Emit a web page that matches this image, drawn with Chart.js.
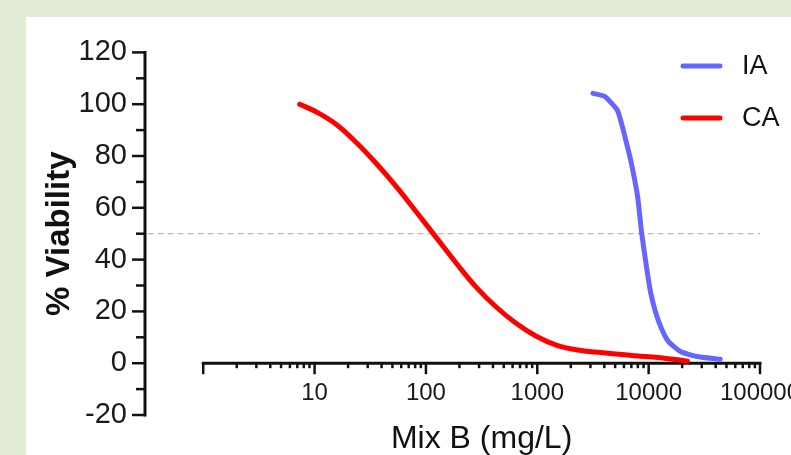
<!DOCTYPE html>
<html>
<head>
<meta charset="utf-8">
<script src="https://cdn.jsdelivr.net/npm/chart.js@4.4.1/dist/chart.umd.min.js"></script>
<style>
  html, body { margin: 0; padding: 0; width: 791px; height: 455px; overflow: hidden; background: #e2ebd4; }
  #box { position: absolute; left: 26px; top: 17px; width: 800px; height: 438px; background: #fff; }
</style>
</head>
<body>
<div id="box"><canvas id="canv" width="800" height="438"></canvas></div>
<script>
// values
var iaDose = [3162, 4047, 5290, 6500, 7200, 7980, 8670, 9600, 10420, 11550, 13060, 15100, 19300, 26300, 43900];
var iaViability = [104.2, 103, 97.3, 83, 74.6, 64, 50, 36.7, 27.3, 19.7, 13.3, 8.3, 4.5, 2.7, 1.5];

var caDose = [7.35, 10.6, 16.0, 24.2, 36.5, 55.1, 83.1, 125, 189, 285, 430, 649, 980, 1479, 2230, 3728, 8483, 12800, 22300];
var caViability = [100, 96.8, 91.9, 84.8, 76.7, 67.8, 58.1, 48.3, 38.4, 29.2, 21.6, 15.3, 10.4, 7.0, 5.2, 4.1, 2.7, 2.1, 0.8];

var seriesNames = ['IA', 'CA'];
var seriesColors = ['rgb(102,102,255)', '#ff0000'];

var xLabels = [10, 100, 1000, 10000, 100000];
var xFirst = 1, xLast = 100000;
var yMin = -20, yMax = 120, yStep = 10, yLabelStep = 20;
var halfLine = 50;

var font = "'Liberation Sans', Arial, Helvetica, sans-serif";
var xMin = Math.pow(10, -0.5);

function toPoints(xs, ys) {
  var out = [];
  for (var i = 0; i < xs.length; i++) out.push({x: xs[i], y: ys[i]});
  return out;
}

// log axis tick positions 1,2..9,10,20..
var xTickValues = [];
for (var d = 1; d < xLast; d *= 10) {
  for (var m = 1; m < 10; m++) xTickValues.push(d * m);
}
xTickValues.push(xLast);

function isDecade(v) {
  var l = Math.log10(v);
  return Math.abs(l - Math.round(l)) < 1e-9;
}

var axesPlugin = {
  id: 'prismAxes',
  beforeDatasetsDraw: function(chart) {
    var ctx = chart.ctx, xs = chart.scales.x, ys = chart.scales.y;
    var ax = chart.chartArea.left;
    var y0 = ys.getPixelForValue(0);
    ctx.save();
    ctx.strokeStyle = '#111';
    ctx.lineCap = 'butt';
    // y axis
    ctx.lineWidth = 3;
    ctx.beginPath();
    ctx.moveTo(ax, ys.getPixelForValue(yMax) - 1.5);
    ctx.lineTo(ax, ys.getPixelForValue(yMin) + 1.5);
    ctx.stroke();
    ctx.lineWidth = 2.5;
    ys.ticks.forEach(function(t) {
      var py = ys.getPixelForValue(t.value);
      var len = t.value % yLabelStep === 0 ? 13 : 9;
      ctx.beginPath();
      ctx.moveTo(ax - len, py);
      ctx.lineTo(ax, py);
      ctx.stroke();
    });
    // x axis, drawn at y = 0 from 1 to 100000
    var x1 = xs.getPixelForValue(xFirst), x2 = xs.getPixelForValue(xLast);
    ctx.lineWidth = 3;
    ctx.beginPath();
    ctx.moveTo(x1 - 1.5, y0);
    ctx.lineTo(x2 + 1.5, y0);
    ctx.stroke();
    ctx.lineWidth = 2.5;
    xs.ticks.forEach(function(t) {
      var px = xs.getPixelForValue(t.value);
      var len = isDecade(t.value) ? 11 : 5;
      ctx.beginPath();
      ctx.moveTo(px, y0);
      ctx.lineTo(px, y0 + len);
      ctx.stroke();
    });
    ctx.restore();
  },
  afterDraw: function(chart) {
    var ctx = chart.ctx, xs = chart.scales.x;
    ctx.save();
    // x title, centred on the drawn axis
    ctx.fillStyle = '#111';
    ctx.font = '32px ' + font;
    ctx.textAlign = 'center';
    ctx.textBaseline = 'middle';
    var cx = (xs.getPixelForValue(xFirst) + xs.getPixelForValue(xLast)) / 2;
    ctx.fillText('Mix B (mg/L)', cx, 422);
    // legend
    ctx.font = '27px ' + font;
    ctx.textAlign = 'left';
    ctx.lineCap = 'round';
    ctx.lineWidth = 5;
    for (var i = 0; i < seriesNames.length; i++) {
      var ly = 49 + i * 52;
      ctx.strokeStyle = seriesColors[i];
      ctx.beginPath();
      ctx.moveTo(657, ly);
      ctx.lineTo(694, ly);
      ctx.stroke();
      ctx.fillStyle = '#111';
      ctx.fillText(seriesNames[i], 716, ly + 1);
    }
    ctx.restore();
  }
};

var chart = new Chart(document.getElementById('canv'), {
  type: 'line',
  data: {
    datasets: [{
      label: seriesNames[0],
      data: toPoints(iaDose, iaViability),
      borderColor: seriesColors[0],
      borderWidth: 5,
      tension: 0.15,
      pointRadius: 0,
      borderCapStyle: 'round',
      borderJoinStyle: 'round'
    }, {
      label: seriesNames[1],
      data: toPoints(caDose, caViability),
      borderColor: seriesColors[1],
      borderWidth: 5,
      tension: 0.4,
      pointRadius: 0,
      borderCapStyle: 'round',
      borderJoinStyle: 'round'
    }, {
      label: '',
      data: [{x: xMin, y: halfLine}, {x: xLast, y: halfLine}],
      borderColor: '#b8b8b8',
      borderWidth: 1.3,
      borderDash: [6, 4],
      pointRadius: 0
    }]
  },
  options: {
    responsive: false,
    animation: false,
    devicePixelRatio: 1,
    layout: { padding: { left: 0, top: 29, right: 66, bottom: 40 } },
    plugins: {
      legend: { display: false },
      tooltip: { enabled: false }
    },
    scales: {
      x: {
        type: 'logarithmic',
        position: { y: 0 },
        min: xMin,
        max: xLast,
        grid: { display: false, drawTicks: false },
        border: { display: false },
        afterBuildTicks: function(scale) {
          scale.ticks = xTickValues.map(function(v) { return {value: v}; });
        },
        ticks: {
          autoSkip: false,
          maxRotation: 0,
          minRotation: 0,
          padding: 16,
          color: '#1a1a1a',
          font: { family: font, size: 24 },
          callback: function(v) { return xLabels.indexOf(v) >= 0 ? String(v) : ''; }
        }
      },
      y: {
        type: 'linear',
        min: yMin,
        max: yMax,
        grid: { display: false, drawTicks: false },
        border: { display: false },
        afterFit: function(scale) { scale.width = 119; },
        ticks: {
          stepSize: yStep,
          autoSkip: false,
          padding: 18,
          color: '#1a1a1a',
          font: { family: font, size: 29 },
          callback: function(v) { return v % yLabelStep === 0 ? String(v) : ''; }
        },
        title: {
          display: true,
          text: '% Viability',
          color: '#111',
          font: { family: font, size: 33, weight: 'bold' },
          padding: { top: 14, bottom: 0 }
        }
      }
    }
  },
  plugins: [axesPlugin]
});
</script>
</body>
</html>
